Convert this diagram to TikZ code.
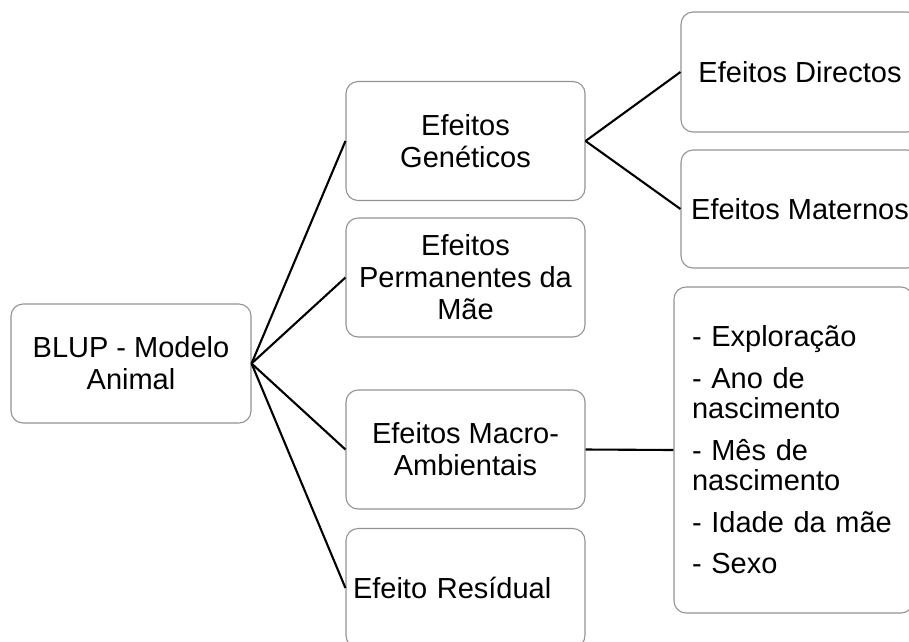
\documentclass[tikz,border=0pt]{standalone}
\usepackage{fontspec}
\setmainfont{Liberation Sans}
\usepackage{tikz}

\tikzset{
	box/.style={draw=gray!85, line width=1.1pt, rounded corners=12pt, fill=white,
		minimum width=239pt, minimum height=119pt, inner sep=0pt, align=center,
		font=\fontsize{29}{32}\selectfont},
	link/.style={draw=black, line width=2.1pt}
}

\begin{document}
\begin{tikzpicture}[x=1pt,y=-1pt]
		\path[use as bounding box, clip] (0,0) rectangle (909,641);
		
		\node[box,minimum width=240pt](root) at (131,363.5) {BLUP - Modelo\\Animal};
		
		\node[box](gen) at (465.5,141) {Efeitos\\Genéticos};
		\node[box](perm) at (465.5,277.5) {Efeitos\\Permanentes da\\Mãe};
		\node[box](macro) at (465.5,449.5) {Efeitos Macro-\\Ambientais};
		\node[box,text width=225pt,inner xsep=7pt,align=left](resid) at (465.5,588) {Efeito Resídual};
		
		\node[box,minimum width=238pt,minimum height=120pt](direct) at (800,72) {Efeitos Directos};
		\node[box,minimum width=238pt,minimum height=118pt](matern) at (800,209) {Efeitos Maternos};
		\node[box,text width=203pt,inner xsep=11pt,minimum height=326pt,align=left,
			font=\fontsize{29}{30.5}\selectfont](list) at (793.5,450)
			{- Exploração\\[11pt]- Ano de\\nascimento\\[11pt]- Mês de\\nascimento\\[11pt]- Idade da mãe\\[11pt]- Sexo};
		
		\draw[link] (root.east) -- (gen.west);
		\draw[link] (root.east) -- (perm.west);
		\draw[link] (root.east) -- (macro.west);
		\draw[link] (root.east) -- (resid.west);
		\draw[link] (gen.east) -- (direct.west);
		\draw[link] (gen.east) -- (matern.west);
		\draw[link] (macro.east) -- (list.west);
	\end{tikzpicture}
\end{document}
